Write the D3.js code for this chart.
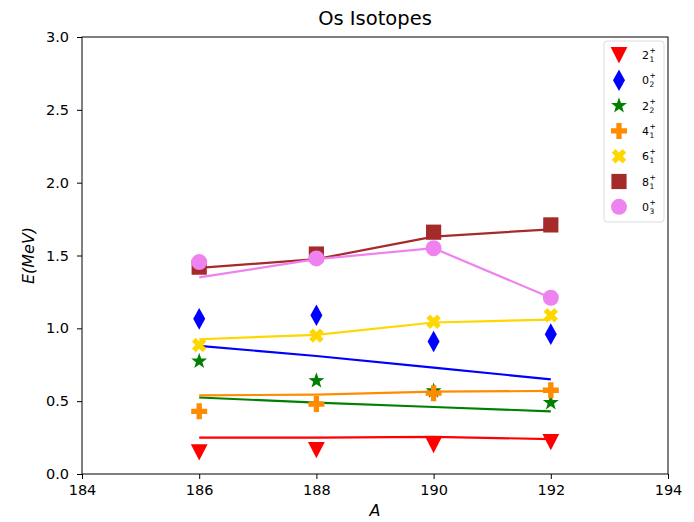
<!DOCTYPE html>
<html>
<head>
<meta charset="utf-8">
<script src="https://cdn.jsdelivr.net/npm/d3@7"></script>
<style>
  body { margin: 0; background: #fff; }
  svg text { font-family: "DejaVu Sans", sans-serif; fill: #000; }
</style>
</head>
<body>
<script>
// data
var massNumbers = [186, 188, 190, 192];
var stateLabels = ["2", "0", "2", "4", "6", "8", "0"];
var stateIndex = ["1", "2", "2", "1", "1", "1", "3"];
var stateColors = ["red", "blue", "green", "darkorange", "gold", "brown", "violet"];
var stateMarkers = ["tri", "diamond", "star", "plus", "cross", "square", "circle"];

// experimental points (markers)
var expE = [
  [0.15, 0.165, 0.20, 0.22],
  [1.065, 1.09, 0.91, 0.96],
  [0.775, 0.64, 0.57, 0.49],
  [0.43, 0.48, 0.555, 0.575],
  [0.885, 0.95, 1.045, 1.09],
  [1.42, 1.51, 1.66, 1.71],
  [1.455, 1.48, 1.55, 1.21]
];
// calculated values (lines)
var thE = [
  [0.25, 0.25, 0.255, 0.24],
  [0.88, 0.81, 0.73, 0.65],
  [0.525, 0.49, 0.46, 0.43],
  [0.54, 0.545, 0.565, 0.57],
  [0.925, 0.955, 1.04, 1.06],
  [1.415, 1.475, 1.63, 1.68],
  [1.35, 1.475, 1.55, 1.21]
];
var xTicks = [184, 186, 188, 190, 192, 194];
var yTicks = [0.0, 0.5, 1.0, 1.5, 2.0, 2.5, 3.0];

var w = 694, h = 522;
var mLeft = 82, mRight = 668, mTop = 37, mBottom = 474;

var svg = d3.select("body").append("svg")
    .attr("width", w)
    .attr("height", h);

var x = d3.scaleLinear().domain([184, 194]).range([mLeft, mRight]);
var y = d3.scaleLinear().domain([0, 3]).range([mBottom, mTop]);

// marker shapes, s = marker size in px
function markerPath(type, s) {
  var r = s / 2, p;
  if (type == "tri") {
    return "M0," + (r * 1.05) + "L" + (-r * 1.05) + "," + (-r) + "L" + (r * 1.05) + "," + (-r) + "Z";
  }
  if (type == "diamond") {
    var hw = r * 0.75, hh = r * 1.35;
    return "M0," + (-hh) + "L" + hw + ",0L0," + hh + "L" + (-hw) + ",0Z";
  }
  if (type == "star") {
    p = [];
    for (var i = 0; i < 10; i++) {
      var rr = i % 2 == 0 ? r * 1.05 : r * 0.42;
      var a = -Math.PI / 2 + i * Math.PI / 5;
      p.push([rr * Math.cos(a), rr * Math.sin(a)]);
    }
    return "M" + p.join("L") + "Z";
  }
  if (type == "plus") {
    var t = r / 3;
    return "M" + (-t) + "," + (-r) + "H" + t + "V" + (-t) + "H" + r + "V" + t + "H" + t +
      "V" + r + "H" + (-t) + "V" + t + "H" + (-r) + "V" + (-t) + "H" + (-t) + "Z";
  }
  if (type == "cross") {
    var q = r * 0.95, d = r * 0.33;
    // X built from a plus rotated 45 degrees
    var pts = [[-d, -q], [d, -q], [d, -d], [q, -d], [q, d], [d, d], [d, q], [-d, q], [-d, d], [-q, d], [-q, -d], [-d, -d]];
    var c = Math.SQRT1_2;
    pts = pts.map(function(v) { return [(v[0] - v[1]) * c, (v[0] + v[1]) * c]; });
    return "M" + pts.join("L") + "Z";
  }
  if (type == "square") {
    var a2 = r * 0.95;
    return "M" + (-a2) + "," + (-a2) + "H" + a2 + "V" + a2 + "H" + (-a2) + "Z";
  }
  // circle
  return "M" + r + ",0A" + r + "," + r + " 0 1,1 " + (-r) + ",0A" + r + "," + r + " 0 1,1 " + r + ",0Z";
}

// axes frame
svg.append("rect")
    .attr("x", mLeft).attr("y", mTop)
    .attr("width", mRight - mLeft).attr("height", mBottom - mTop)
    .attr("fill", "none").attr("stroke", "#000").attr("stroke-width", 1);

var xAxis = svg.append("g")
    .attr("transform", "translate(0," + mBottom + ")")
    .call(d3.axisBottom(x).tickValues(xTicks).tickSize(5).tickPadding(6).tickFormat(d3.format("d")));
var yAxis = svg.append("g")
    .attr("transform", "translate(" + mLeft + ",0)")
    .call(d3.axisLeft(y).tickValues(yTicks).tickSize(5).tickPadding(8).tickFormat(d3.format(".1f")));
[xAxis, yAxis].forEach(function(g) {
  g.select(".domain").remove();
  g.selectAll("text").style("font-size", "14.5px").style("font-family", "DejaVu Sans").attr("fill", "#222");
  g.selectAll("line").attr("stroke", "#000");
});

// lines
var line = d3.line()
    .x(function(d, i) { return x(massNumbers[i]); })
    .y(function(d) { return y(d); });

svg.append("defs").append("clipPath").attr("id", "clip")
    .append("rect").attr("x", mLeft).attr("y", mTop).attr("width", mRight - mLeft).attr("height", mBottom - mTop);

var plot = svg.append("g").attr("clip-path", "url(#clip)");

stateLabels.forEach(function(lbl, k) {
  plot.append("path")
      .datum(thE[k])
      .attr("d", line)
      .attr("fill", "none")
      .attr("stroke", stateColors[k])
      .attr("stroke-width", 2.2);
});

stateLabels.forEach(function(lbl, k) {
  plot.selectAll(".m" + k)
      .data(expE[k])
      .enter()
      .append("path")
      .attr("class", "m" + k)
      .attr("transform", function(d, i) { return "translate(" + x(massNumbers[i]) + "," + y(d) + ")"; })
      .attr("d", markerPath(stateMarkers[k], 16))
      .attr("fill", stateColors[k]);
});

// title and axis labels
svg.append("text")
    .attr("x", (mLeft + mRight) / 2).attr("y", 25)
    .attr("text-anchor", "middle")
    .style("font-size", "19.5px").attr("fill", "#222")
    .text("Os Isotopes");

svg.append("text")
    .attr("x", (mLeft + mRight) / 2).attr("y", 516)
    .attr("text-anchor", "middle")
    .style("font-size", "16px").style("font-style", "italic").attr("fill", "#222")
    .text("A");

svg.append("text")
    .attr("transform", "translate(34," + ((mTop + mBottom) / 2) + ") rotate(-90)")
    .attr("text-anchor", "middle")
    .style("font-size", "16px").style("font-style", "italic").attr("fill", "#222")
    .text("E(MeV)");

// legend
var legend = svg.append("g");
legend.append("rect")
    .attr("x", 604).attr("y", 41).attr("width", 60).attr("height", 181)
    .attr("rx", 3)
    .attr("fill", "#fff").attr("stroke", "#ddd");

stateLabels.forEach(function(lbl, k) {
  var ly = 55 + k * 25.3;
  legend.append("path")
      .attr("transform", "translate(619," + ly + ")")
      .attr("d", markerPath(stateMarkers[k], 16))
      .attr("fill", stateColors[k]);
  var t = legend.append("text")
      .attr("x", 642).attr("y", ly + 4)
      .style("font-size", "11px").attr("fill", "#222");
  t.append("tspan").text(lbl);
  t.append("tspan").attr("dy", -6).attr("x", 649.5).style("font-size", "7.5px").text("+");
  t.append("tspan").attr("dy", 9).attr("x", 649.5).style("font-size", "7.5px").text(stateIndex[k]);
});
</script>
</body>
</html>
